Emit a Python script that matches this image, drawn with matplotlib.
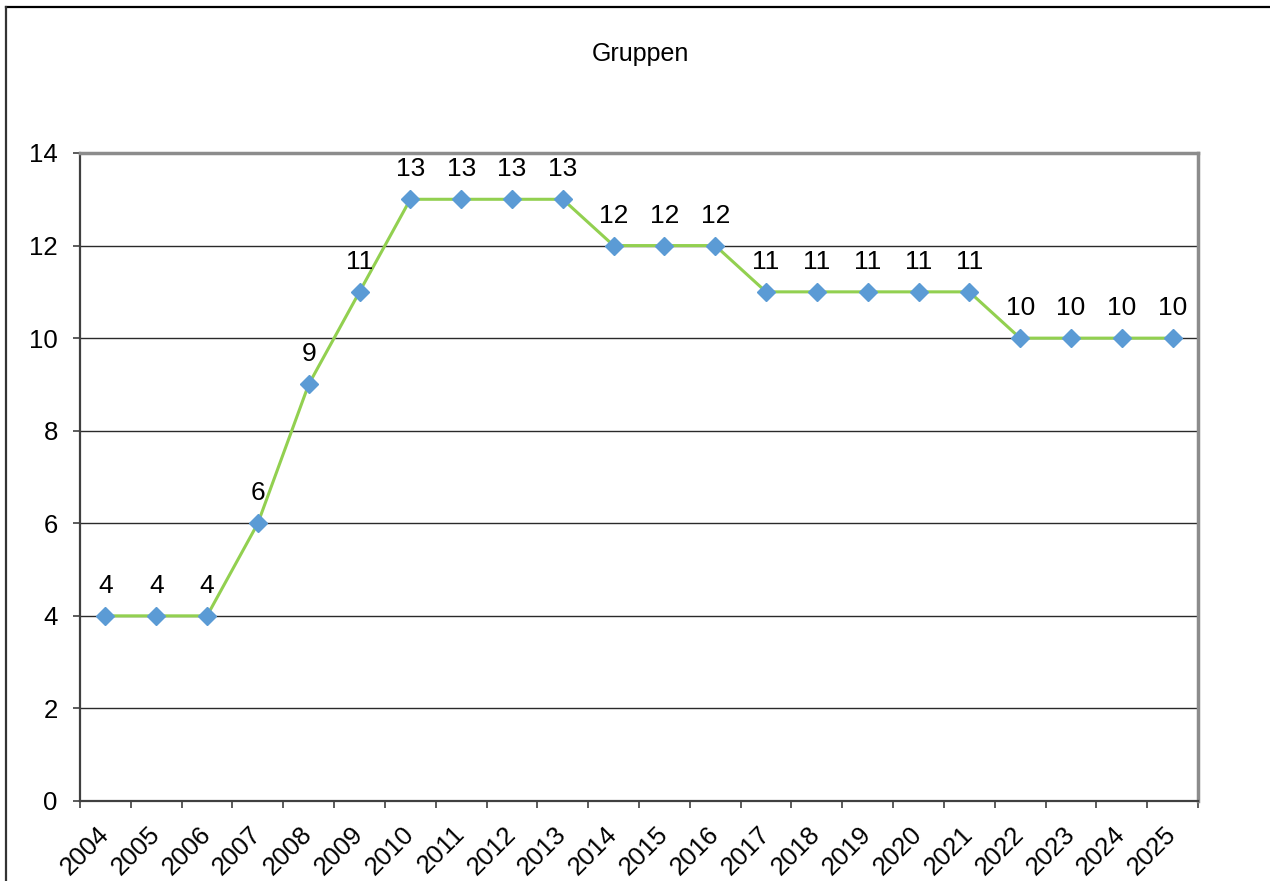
import matplotlib
matplotlib.use("Agg")
import matplotlib.pyplot as plt
from matplotlib.lines import Line2D

years = [str(y) for y in range(2004, 2026)]
groups = [4, 4, 4, 6, 9, 11, 13, 13, 13, 13, 12, 12, 12, 11, 11, 11, 11, 11, 10, 10, 10, 10]
title = "Gruppen"
y_ticks = [0, 2, 4, 6, 8, 10, 12, 14]

plt.rcParams['font.family'] = ['Liberation Sans', 'DejaVu Sans']

fig = plt.figure(figsize=(12.7, 8.81), dpi=100)
W, H = 1270, 881
ax = fig.add_axes([80 / W, 1 - 801 / H, (1198 - 80) / W, (801 - 153) / H])

x = list(range(len(years)))
ax.plot(x, groups, color='#92D050', lw=2.2, zorder=3,
        marker='D', markersize=9, markerfacecolor='#5B9BD5', markeredgecolor='#5B9BD5')

for xi, v in zip(x, groups):
    ax.annotate(str(v), (xi, v), xytext=(0, 23), textcoords='offset pixels',
                ha='center', va='baseline', fontsize=19, color='black', zorder=4)

ax.set_xlim(-0.5, len(years) - 0.5)
ax.set_ylim(0, 14)
ax.set_yticks(y_ticks)
ax.set_yticklabels([str(t) for t in y_ticks])
ax.tick_params(axis='y', direction='out', length=5, width=1.2, color='#404040',
               labelsize=18.5, pad=11)
ax.yaxis.grid(True, color='#2a2a2a', lw=1)
ax.set_axisbelow(True)

ax.set_xticks([i - 0.5 for i in range(len(years) + 1)])
ax.set_xticklabels([])
ax.set_xticks(x, minor=True)
ax.set_xticklabels(years, minor=True, rotation=45, ha='right', va='center',
                   rotation_mode='anchor', fontsize=18.5)
ax.tick_params(axis='x', which='major', direction='out', length=5, width=1.2, color='#404040')
ax.tick_params(axis='x', which='minor', length=0, pad=21)

for s in ['left', 'bottom']:
    ax.spines[s].set_color('#404040')
    ax.spines[s].set_linewidth(1.6)
for s in ['top', 'right']:
    ax.spines[s].set_color('#8c8c8c')
    ax.spines[s].set_linewidth(2.5)

fig.text(640 / W, 1 - 54 / H, title, ha='center', va='center', fontsize=18)

# outer chart border (cropped on right/bottom)
fig.add_artist(Line2D([6 / W, 1.0], [1 - 7 / H, 1 - 7 / H], transform=fig.transFigure,
                      color='black', lw=1.6))
fig.add_artist(Line2D([6 / W, 6 / W], [1 - 7 / H, 0.0], transform=fig.transFigure,
                      color='#333333', lw=1.6))

fig.savefig("out.png", dpi=100)
